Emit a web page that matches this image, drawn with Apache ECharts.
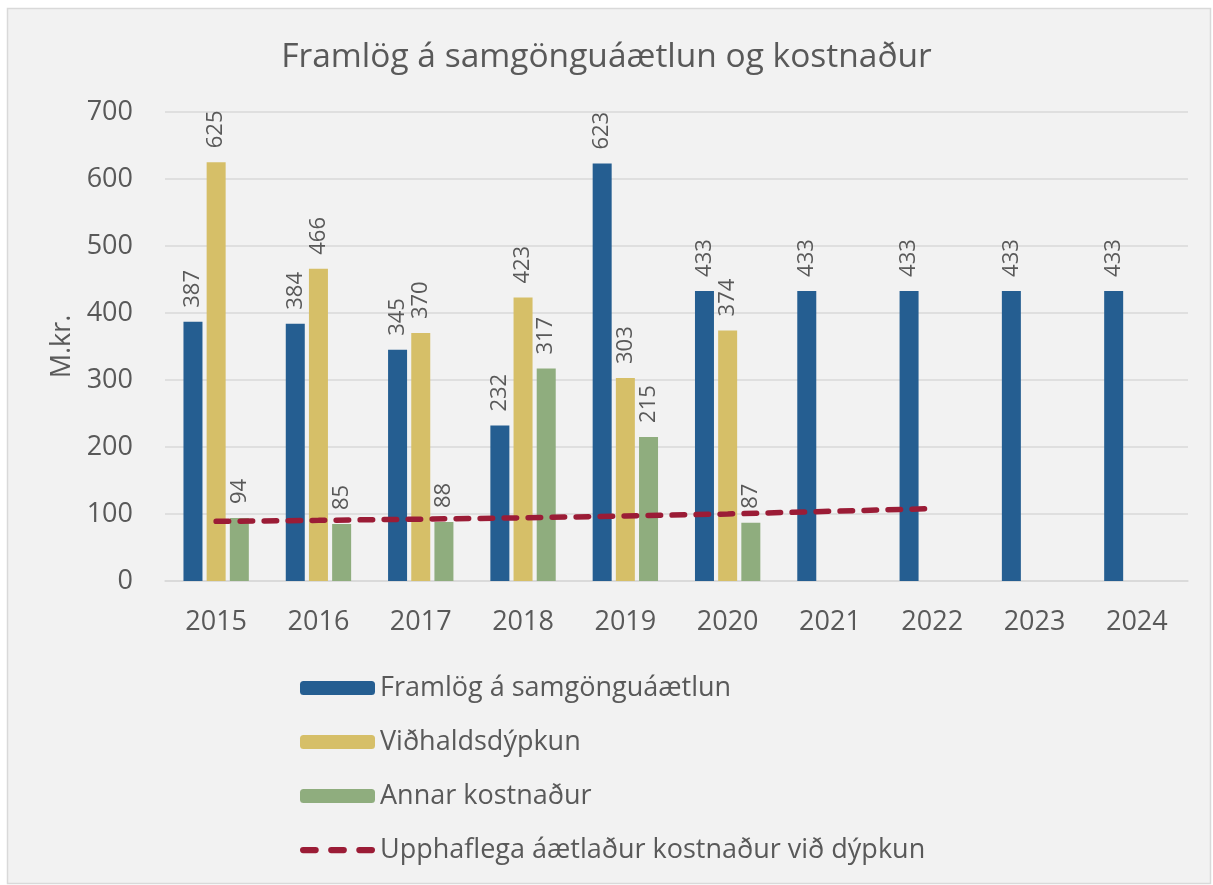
<!DOCTYPE html>
<html>
<head>
<meta charset="utf-8">
<script src="https://cdn.jsdelivr.net/npm/echarts@6/dist/echarts.min.js"></script>
<style>
  html, body { margin: 0; padding: 0; background: #ffffff; }
  #chart { width: 1213px; height: 885px; }
</style>
</head>
<body>
<div id="chart"></div>
<script>
// data
var years = ['2015', '2016', '2017', '2018', '2019', '2020', '2021', '2022', '2023', '2024'];
var framlog = [387, 384, 345, 232, 623, 433, 433, 433, 433, 433];
var vidhald = [625, 466, 370, 423, 303, 374, null, null, null, null];
var annar = [94, 85, 88, 317, 215, 87, null, null, null, null];
var upphafleg = [89, 90.5, 92.3, 94.3, 97, 100, 104, 108, null, null];

var mychart = echarts.init(document.getElementById('chart'));
var font = '"Open Sans", "Noto Sans", sans-serif';
var txt = '#595959';
var red = '#9b1c36';

var barLabel = {
    show: true,
    rotate: 90,
    position: 'top',
    align: 'left',
    verticalAlign: 'middle',
    distance: 14,
    color: txt,
    fontSize: 22,
    fontFamily: font
};

mychart.setOption({
    backgroundColor: '#ffffff',
    textStyle: { fontFamily: font },
    graphic: [{
        type: 'rect',
        z: -10,
        shape: { x: 7.5, y: 8.5, width: 1203, height: 875 },
        style: { fill: '#f2f2f2', stroke: '#d9d9d9', lineWidth: 1.5 }
    }],
    title: {
        text: 'Framlög á samgönguáætlun og kostnaður',
        left: 'center',
        top: 35,
        textStyle: { fontSize: 33.5, fontWeight: 'normal', color: txt, fontFamily: font }
    },
    legend: {
        orient: 'vertical',
        left: 295,
        top: 667,
        itemWidth: 75,
        itemHeight: 14,
        itemGap: 22,
        textStyle: { fontSize: 27, lineHeight: 32, color: txt, fontFamily: font },
        data: [
            'Framlög á samgönguáætlun',
            'Viðhaldsdýpkun',
            'Annar kostnaður',
            {
                name: 'Upphaflega áætlaður kostnaður við dýpkun',
                icon: 'path://M3,0 h12 a3,3 0 0 1 0,6 h-12 a3,3 0 0 1 0,-6 z M30,0 h12 a3,3 0 0 1 0,6 h-12 a3,3 0 0 1 0,-6 z M57,0 h12 a3,3 0 0 1 0,6 h-12 a3,3 0 0 1 0,-6 z',
                itemStyle: { color: red }
            }
        ]
    },
    grid: { left: 165, right: 25, top: 112, bottom: 304 },
    xAxis: {
        type: 'category',
        data: years,
        axisLine: { lineStyle: { color: '#d9d9d9', width: 1.5 } },
        axisTick: { show: false },
        axisLabel: { color: txt, fontSize: 27, margin: 28, fontFamily: font }
    },
    yAxis: {
        type: 'value',
        min: 0,
        max: 700,
        interval: 100,
        name: 'M.kr.',
        nameLocation: 'middle',
        nameGap: 88,
        nameRotate: 90,
        nameTextStyle: { color: txt, fontSize: 27, fontFamily: font },
        axisLine: { show: false },
        axisTick: { show: false },
        axisLabel: { color: txt, fontSize: 27, margin: 32, fontFamily: font },
        splitLine: { lineStyle: { color: '#d9d9d9', width: 1.5 } }
    },
    series: [
        {
            name: 'Framlög á samgönguáætlun',
            type: 'bar',
            data: framlog,
            barWidth: 19,
            barGap: '22%',
            itemStyle: { color: '#255e91' },
            label: barLabel
        },
        {
            name: 'Viðhaldsdýpkun',
            type: 'bar',
            data: vidhald,
            barWidth: 19,
            barGap: '22%',
            itemStyle: { color: '#d6bf68' },
            label: barLabel
        },
        {
            name: 'Annar kostnaður',
            type: 'bar',
            data: annar,
            barWidth: 19,
            barGap: '22%',
            itemStyle: { color: '#8fad7e' },
            label: barLabel
        },
        {
            name: 'Upphaflega áætlaður kostnaður við dýpkun',
            type: 'line',
            data: upphafleg,
            symbol: 'none',
            smooth: false,
            z: 5,
            lineStyle: { color: red, width: 5.5, type: [12.5, 11.5], cap: 'round' },
            itemStyle: { color: red }
        }
    ]
});
</script>
</body>
</html>
